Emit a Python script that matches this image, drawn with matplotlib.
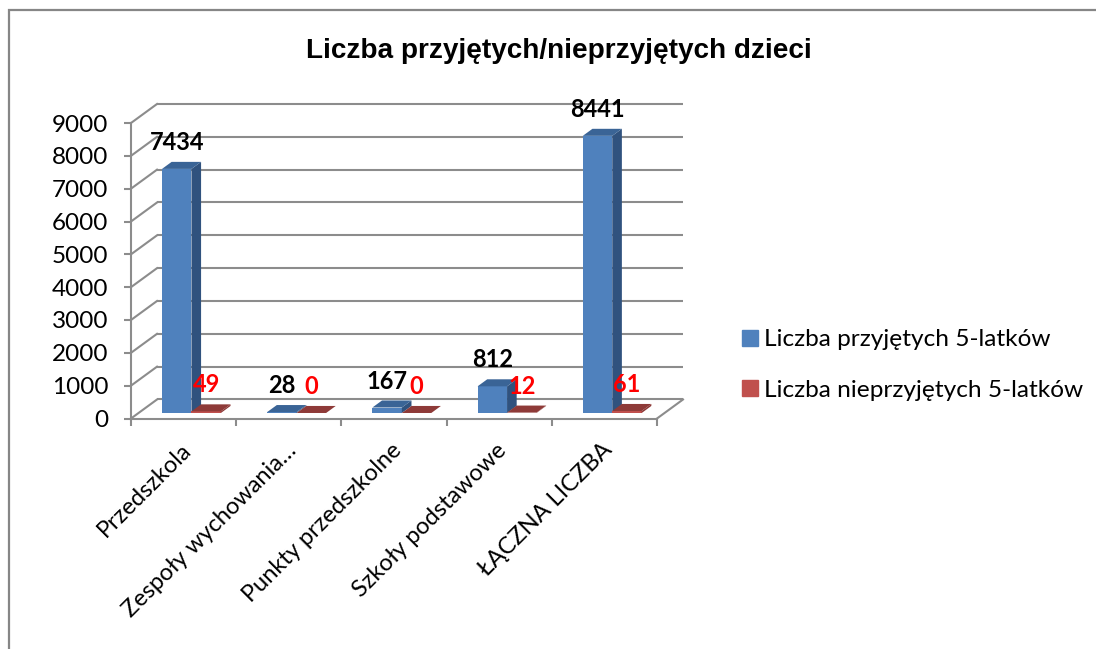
import matplotlib
matplotlib.use("Agg")
import matplotlib.pyplot as plt
from matplotlib.patches import Patch, Rectangle

W, H = 1096, 649
SANS = ['Lato', 'DejaVu Sans']

categories = ['Przedszkola', 'Zespoły wychowania…', 'Punkty przedszkolne',
              'Szkoły podstawowe', 'ŁĄCZNA LICZBA']
przyjete = [7434, 28, 167, 812, 8441]
nieprzyjete = [49, 0, 0, 12, 61]
y_ticks = [0, 1000, 2000, 3000, 4000, 5000, 6000, 7000, 8000, 9000]

# fake 3D: offsets in data units, so everything still goes through the axes
WALL_DX = 26 / 105.2
WALL_DY = 19 / 32.83 * 1000
BAR_START = 0.29   # how far back the bar front sits
BAR_DEPTH = 0.37
BAR_LEFT = 0.223
BAR_W = 0.28

GREY = '#8c8c8c'

plt.rcParams['font.family'] = SANS

fig = plt.figure(figsize=(W / 100, H / 100), dpi=100, facecolor='white')
ax = fig.add_axes([131 / W, (H - 418.5) / H, 526 / W, 295.5 / H])
ax.set_xlim(0, 5)
ax.set_ylim(0, 9000)
ax.patch.set_visible(False)

# outer chart border, runs off the picture on the right and bottom
fig.add_artist(Rectangle((8.5 / W, -0.1), 1.2, 1.1 - 10.5 / H, transform=fig.transFigure,
                         fill=False, edgecolor='#868686', linewidth=1.6))

# back wall and left wall grid
for v in y_ticks:
    ax.plot([WALL_DX, 5 + WALL_DX], [v + WALL_DY, v + WALL_DY], color=GREY, lw=1.5,
            clip_on=False, zorder=1, solid_capstyle='butt')
    ax.plot([0, WALL_DX], [v, v + WALL_DY], color=GREY, lw=1.5, clip_on=False, zorder=1)
ax.plot([5, 5 + WALL_DX], [0, WALL_DY], color=GREY, lw=1.5, clip_on=False, zorder=1)


def draw_bars(values, shift, front, side, top, label_color):
    for i, v in enumerate(values):
        x0 = i + BAR_LEFT + shift + BAR_START * WALL_DX
        x1 = x0 + BAR_W
        y0 = BAR_START * WALL_DY
        ddx = BAR_DEPTH * WALL_DX
        ddy = BAR_DEPTH * WALL_DY
        ax.bar(x0, v, BAR_W, bottom=y0, align='edge', color=front, linewidth=0,
               zorder=3, clip_on=False)
        ax.fill([x1, x1 + ddx, x1 + ddx, x1], [y0, y0 + ddy, y0 + v + ddy, y0 + v],
                color=side, linewidth=0, zorder=3, clip_on=False)
        ax.fill([x0, x1, x1 + ddx, x0 + ddx],
                [y0 + v, y0 + v, y0 + v + ddy, y0 + v + ddy],
                color=top, linewidth=0, zorder=3, clip_on=False)
        ax.annotate(str(v), ((x0 + x1) / 2, y0 + v), xytext=(0, 19),
                    textcoords='offset points', ha='center', va='center',
                    fontsize=17, fontweight='bold', color=label_color,
                    zorder=5, annotation_clip=False)


draw_bars(przyjete, 0, '#4f81bd', '#30527e', '#3a6496', 'black')
draw_bars(nieprzyjete, BAR_W, '#c0504d', '#8c3836', '#8e3a38', '#ff0000')

# axes
for s in ['top', 'right']:
    ax.spines[s].set_visible(False)
for s in ['left', 'bottom']:
    ax.spines[s].set_color(GREY)
    ax.spines[s].set_linewidth(1.5)
    ax.spines[s].set_zorder(2)

ax.set_yticks(y_ticks)
ax.tick_params(axis='y', length=5, width=1.5, color=GREY, pad=11.5, labelsize=17.5)
ax.set_xticks(range(6))
ax.set_xticklabels([])
ax.tick_params(axis='x', which='major', length=5, width=1.5, color=GREY)
ax.set_xticks([i + 0.47 for i in range(5)], minor=True)
ax.set_xticklabels(categories, minor=True, rotation=45, ha='right',
                   rotation_mode='anchor', fontsize=17)
ax.tick_params(axis='x', which='minor', length=0, pad=15)

fig.text(559 / W, 1 - 51 / H, 'Liczba przyjętych/nieprzyjętych dzieci', ha='center',
         va='center', fontsize=20.1, fontweight='bold', family='Liberation Sans')

handles = [Patch(color='#4f81bd', label='Liczba przyjętych 5-latków'),
           Patch(color='#c0504d', label='Liczba nieprzyjętych 5-latków')]
fig.legend(handles=handles, loc='upper left', bbox_to_anchor=(735 / W, 1 - 322 / H),
           frameon=False, fontsize=17.55, handlelength=0.64, handleheight=0.64,
           handletextpad=0.27, labelspacing=1.2, borderaxespad=0, borderpad=0.3)

fig.savefig('out.png', dpi=100)
